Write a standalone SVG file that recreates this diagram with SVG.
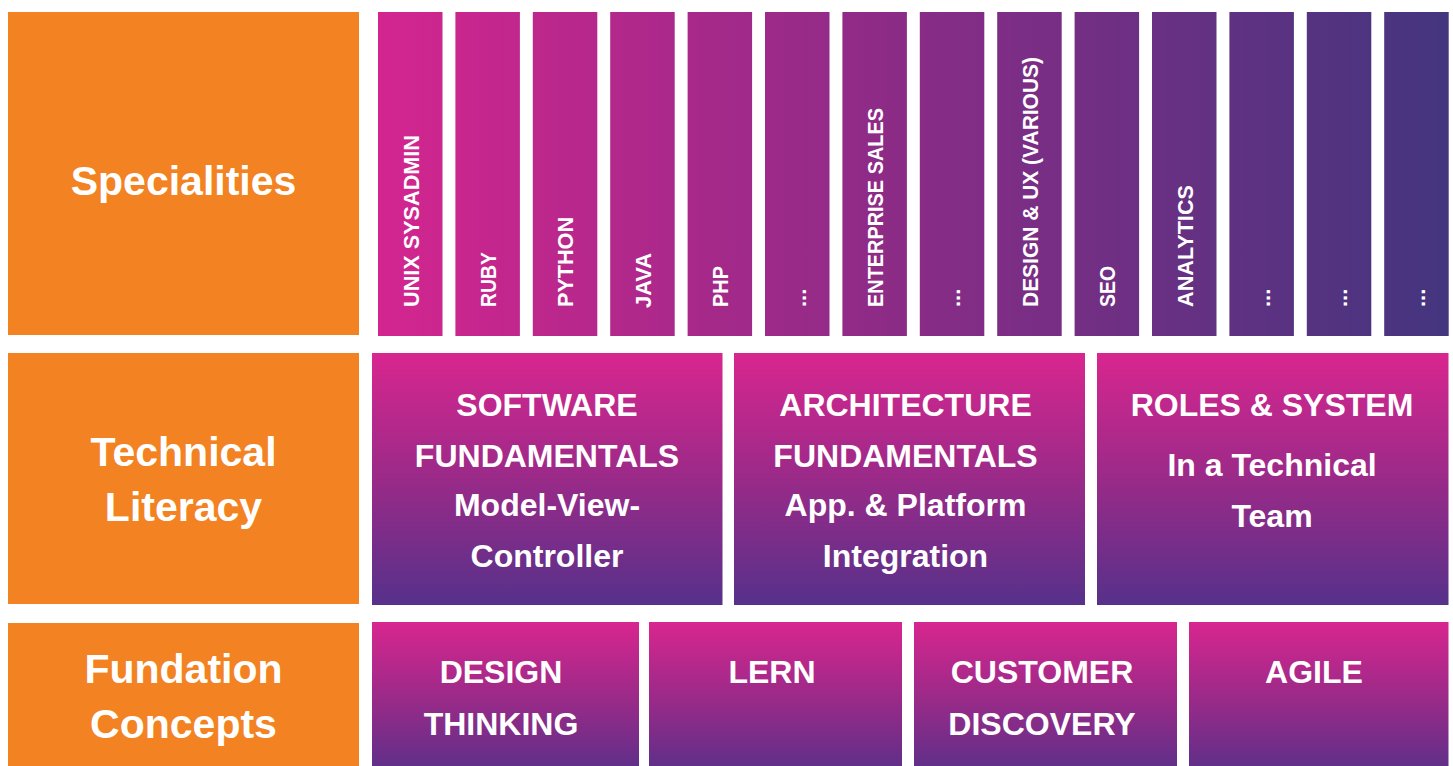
<svg xmlns="http://www.w3.org/2000/svg" width="1453" height="766" viewBox="0 0 1453 766">
  <defs>
    <linearGradient id="gCols" gradientUnits="userSpaceOnUse" x1="378" y1="0" x2="1448" y2="0">
      <stop offset="0" stop-color="#D4258F"/>
      <stop offset="0.45" stop-color="#902B87"/>
      <stop offset="1" stop-color="#44357F"/>
    </linearGradient>
    <linearGradient id="gMid" x1="0" y1="0" x2="0" y2="1">
      <stop offset="0" stop-color="#D8268F"/>
      <stop offset="0.5" stop-color="#9A2A88"/>
      <stop offset="1" stop-color="#56318A"/>
    </linearGradient>
    <linearGradient id="gBot" x1="0" y1="0" x2="0" y2="1">
      <stop offset="0" stop-color="#D8268F"/>
      <stop offset="0.55" stop-color="#982A88"/>
      <stop offset="1" stop-color="#612F89"/>
    </linearGradient>
    <style>
      .orange { fill: #F38222; }
      .col { fill: url(#gCols); }
      .mid { fill: url(#gMid); }
      .bot { fill: url(#gBot); }
      text { fill: #FFFFFF; font-family: "Liberation Sans", Arial, sans-serif; font-weight: bold; text-anchor: middle; }
      .lbl { font-size: 41px; }
      .head { font-size: 32px; }
      .sub { font-size: 32px; }
      .bt { font-size: 32px; }
      .vt { font-size: 22px; text-anchor: start; }
    </style>
  </defs>

  <rect width="1453" height="766" fill="#FFFFFF"/>

  <g id="specialities">
    <rect class="orange" x="8" y="12" width="351" height="323"/>
    <text class="lbl" x="183.5" y="195">Specialities</text>
  </g>
  <g id="technical-literacy">
    <rect class="orange" x="8" y="353" width="351" height="251"/>
    <text class="lbl" x="183.5" y="466">Technical</text>
    <text class="lbl" x="183.5" y="521">Literacy</text>
  </g>
  <g id="fundation-concepts">
    <rect class="orange" x="8" y="623" width="351" height="143"/>
    <text class="lbl" x="183.5" y="683">Fundation</text>
    <text class="lbl" x="183.5" y="738">Concepts</text>
  </g>

  <g id="col-unix">
    <rect class="col" x="378" y="12" width="64.5" height="324"/>
    <text class="vt" transform="translate(418.5,307) rotate(-90)" textLength="172" lengthAdjust="spacingAndGlyphs">UNIX SYSADMIN</text>
  </g>
  <g id="col-ruby">
    <rect class="col" x="455.4" y="12" width="64.5" height="324"/>
    <text class="vt" transform="translate(495.9,307) rotate(-90)" textLength="55" lengthAdjust="spacingAndGlyphs">RUBY</text>
  </g>
  <g id="col-python">
    <rect class="col" x="532.8" y="12" width="64.5" height="324"/>
    <text class="vt" transform="translate(573.3,307) rotate(-90)" textLength="90" lengthAdjust="spacingAndGlyphs">PYTHON</text>
  </g>
  <g id="col-java">
    <rect class="col" x="610.2" y="12" width="64.5" height="324"/>
    <text class="vt" transform="translate(650.7,308) rotate(-90)" textLength="55" lengthAdjust="spacingAndGlyphs">JAVA</text>
  </g>
  <g id="col-php">
    <rect class="col" x="687.6" y="12" width="64.5" height="324"/>
    <text class="vt" transform="translate(728.1,307) rotate(-90)" textLength="41" lengthAdjust="spacingAndGlyphs">PHP</text>
  </g>
  <g id="col-more-1">
    <rect class="col" x="765" y="12" width="64.5" height="324"/>
    <text class="vt" transform="translate(805.5,307) rotate(-90)">...</text>
  </g>
  <g id="col-enterprise-sales">
    <rect class="col" x="842.4" y="12" width="64.5" height="324"/>
    <text class="vt" transform="translate(882.9,307) rotate(-90)" textLength="199" lengthAdjust="spacingAndGlyphs">ENTERPRISE SALES</text>
  </g>
  <g id="col-more-2">
    <rect class="col" x="919.8" y="12" width="64.5" height="324"/>
    <text class="vt" transform="translate(960.3,307) rotate(-90)">...</text>
  </g>
  <g id="col-design-ux">
    <rect class="col" x="997.2" y="12" width="64.5" height="324"/>
    <text class="vt" transform="translate(1037.7,307) rotate(-90)" textLength="250" lengthAdjust="spacingAndGlyphs">DESIGN &amp; UX (VARIOUS)</text>
  </g>
  <g id="col-seo">
    <rect class="col" x="1074.6" y="12" width="64.5" height="324"/>
    <text class="vt" transform="translate(1115.1,307) rotate(-90)" textLength="41" lengthAdjust="spacingAndGlyphs">SEO</text>
  </g>
  <g id="col-analytics">
    <rect class="col" x="1152" y="12" width="64.5" height="324"/>
    <text class="vt" transform="translate(1192.5,307) rotate(-90)" textLength="122" lengthAdjust="spacingAndGlyphs">ANALYTICS</text>
  </g>
  <g id="col-more-3">
    <rect class="col" x="1229.4" y="12" width="64.5" height="324"/>
    <text class="vt" transform="translate(1269.9,307) rotate(-90)">...</text>
  </g>
  <g id="col-more-4">
    <rect class="col" x="1306.8" y="12" width="64.5" height="324"/>
    <text class="vt" transform="translate(1347.3,307) rotate(-90)">...</text>
  </g>
  <g id="col-more-5">
    <rect class="col" x="1384.2" y="12" width="64.5" height="324"/>
    <text class="vt" transform="translate(1424.7,307) rotate(-90)">...</text>
  </g>

  <g id="software-fundamentals">
    <rect class="mid" x="372" y="353" width="350.5" height="252"/>
    <text class="head" x="547" y="416">SOFTWARE</text>
    <text class="head" x="547" y="467">FUNDAMENTALS</text>
    <text class="sub" x="547" y="516">Model-View-</text>
    <text class="sub" x="547" y="567">Controller</text>
  </g>
  <g id="architecture-fundamentals">
    <rect class="mid" x="734" y="353" width="351" height="252"/>
    <text class="head" x="905.5" y="416">ARCHITECTURE</text>
    <text class="head" x="905.5" y="467">FUNDAMENTALS</text>
    <text class="sub" x="905.5" y="516">App. &amp; Platform</text>
    <text class="sub" x="905.5" y="567">Integration</text>
  </g>
  <g id="roles-system">
    <rect class="mid" x="1097" y="353" width="351.5" height="252"/>
    <text class="head" x="1272" y="416">ROLES &amp; SYSTEM</text>
    <text class="sub" x="1272" y="476">In a Technical</text>
    <text class="sub" x="1272" y="527">Team</text>
  </g>

  <g id="design-thinking">
    <rect class="bot" x="372" y="622" width="267" height="144"/>
    <text class="bt" x="501" y="683">DESIGN</text>
    <text class="bt" x="501" y="735">THINKING</text>
  </g>
  <g id="lern">
    <rect class="bot" x="649" y="622" width="253" height="144"/>
    <text class="bt" x="772" y="683">LERN</text>
  </g>
  <g id="customer-discovery">
    <rect class="bot" x="914" y="622" width="263" height="144"/>
    <text class="bt" x="1042" y="683">CUSTOMER</text>
    <text class="bt" x="1042" y="735">DISCOVERY</text>
  </g>
  <g id="agile">
    <rect class="bot" x="1189" y="622" width="259.5" height="144"/>
    <text class="bt" x="1314" y="683">AGILE</text>
  </g>

  <g id="connectors"/>
</svg>
